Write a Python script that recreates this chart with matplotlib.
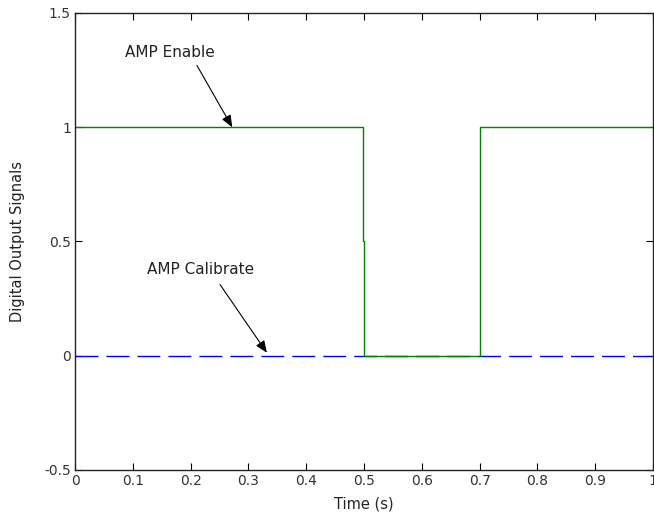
import matplotlib.pyplot as plt

plt.rcParams['font.family'] = ['DejaVu Sans']

# data
t_enable = [0.0, 0.4985, 0.4985, 0.5005, 0.5005, 0.7, 0.7, 1.0]
amp_enable = [1, 1, 0.5, 0.5, 0, 0, 1, 1]
t_calib = [0.0, 1.0]
amp_calib = [0, 0]

xticks = [0, 0.1, 0.2, 0.3, 0.4, 0.5, 0.6, 0.7, 0.8, 0.9, 1]
xticklabels = ['0', '0.1', '0.2', '0.3', '0.4', '0.5', '0.6', '0.7', '0.8', '0.9', '1']
yticks = [-0.5, 0, 0.5, 1, 1.5]
yticklabels = ['-0.5', '0', '0.5', '1', '1.5']

fig = plt.figure(figsize=(6.54, 5.18), dpi=100)
ax = fig.add_axes([0.1147, 0.0927, 0.8838, 0.8823])

line, = ax.plot(t_calib, amp_calib, color='#0000ff', linewidth=1.0, linestyle='--')
line.set_dashes((16.5, 5.8))
ax.plot(t_enable, amp_enable, color='#008000', linewidth=1.0)

ax.set_xlim(0, 1)
ax.set_ylim(-0.5, 1.5)
ax.set_xticks(xticks)
ax.set_xticklabels(xticklabels)
ax.set_yticks(yticks)
ax.set_yticklabels(yticklabels)
ax.tick_params(direction='in', length=5, top=True, right=True, labelsize=10, pad=3,
               labelcolor='#333333')
for s in ax.spines.values():
    s.set_linewidth(1.0)
    s.set_color('#222222')

ax.set_xlabel('Time (s)', fontsize=10.5, labelpad=6, color='#222222')
ax.set_ylabel('Digital Output Signals', fontsize=10.5, labelpad=14, color='#222222')

arrow = dict(arrowstyle='-|>,head_length=0.6,head_width=0.25', color='black',
             lw=0.8, mutation_scale=12, shrinkA=0, shrinkB=0)

ax.text(0.164, 1.329, 'AMP Enable', ha='center', va='center', fontsize=11, color='#222222')
ax.annotate('', xy=(0.272, 1.0), xytext=(0.211, 1.27), arrowprops=arrow)

ax.text(0.217, 0.377, 'AMP Calibrate', ha='center', va='center', fontsize=11, color='#222222')
ax.annotate('', xy=(0.332, 0.013), xytext=(0.251, 0.311), arrowprops=arrow)

fig.savefig('out.png', dpi=100)
